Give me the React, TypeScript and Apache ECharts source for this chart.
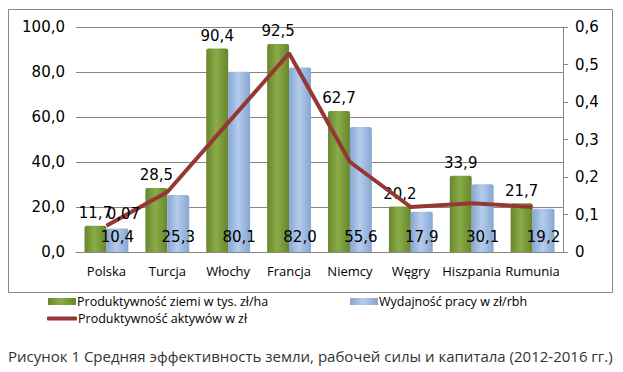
import React, { useEffect, useRef } from "react";
import * as echarts from "echarts";

const categories = ["Polska", "Turcja", "Włochy", "Francja", "Niemcy", "Węgry", "Hiszpania", "Rumunia"];
const landProductivity = [11.7, 28.5, 90.4, 92.5, 62.7, 20.2, 33.9, 21.7];
const laborProductivity = [10.4, 25.3, 80.1, 82.0, 55.6, 17.9, 30.1, 19.2];
const assetProductivity = [0.07, 0.16, 0.345, 0.53, 0.24, 0.12, 0.13, 0.12];

const S1 = "Produktywność ziemi w tys. zł/ha";
const S2 = "Wydajność pracy w zł/rbh";
const S3 = "Produktywność aktywów w zł";
const CAPTION = "Рисунок 1 Средняя эффективность земли, рабочей силы и капитала (2012-2016 гг.)";

const NUM_FONT = "DejaVu Sans";
const TXT_FONT = "Open Sans";

const fmt1 = (v: number) => v.toFixed(1).replace(".", ",");

export default function App() {
  const ref = useRef<HTMLDivElement>(null);
  useEffect(() => {
    if (!ref.current) return;
    const chart = echarts.init(ref.current, null, { renderer: "svg" });
    const green = new echarts.graphic.LinearGradient(0, 0, 1, 0, [
      { offset: 0, color: "#67862c" },
      { offset: 0.45, color: "#8aac47" },
      { offset: 1, color: "#67862c" },
    ]);
    const blue = new echarts.graphic.LinearGradient(0, 0, 1, 0, [
      { offset: 0, color: "#85a7d3" },
      { offset: 0.45, color: "#b5cceb" },
      { offset: 1, color: "#85a7d3" },
    ]);
    const legendText = { fontFamily: TXT_FONT, fontSize: 12.5, lineHeight: 13, color: "#000", padding: [0, 0, 0, -4] };
    chart.setOption({
      animation: false,
      grid: { left: 76, top: 27, right: 60, bottom: 120 },
      legend: [
        { data: [{ name: S1, icon: "rect" }], left: 48, top: 295, padding: 0, itemWidth: 28, itemHeight: 7, textStyle: legendText },
        { data: [{ name: S2, icon: "rect" }], left: 350, top: 295, padding: 0, itemWidth: 28, itemHeight: 7, textStyle: legendText },
        { data: [{ name: S3, icon: "roundRect" }], left: 47, top: 312, padding: 0, itemWidth: 30, itemHeight: 4, textStyle: legendText },
      ],
      xAxis: {
        type: "category",
        data: categories,
        axisLine: { lineStyle: { color: "#868686" } },
        axisTick: { show: false },
        axisLabel: { fontFamily: TXT_FONT, fontSize: 13, color: "#000", margin: 12, interval: 0 },
      },
      yAxis: [
        {
          type: "value",
          min: 0,
          max: 100,
          interval: 20,
          axisLine: { show: false },
          axisTick: { show: false },
          splitLine: { lineStyle: { color: "#868686" } },
          axisLabel: { fontFamily: NUM_FONT, fontSize: 15, color: "#000", margin: 11, formatter: (v: number) => fmt1(v) },
        },
        {
          type: "value",
          min: 0,
          max: 0.6,
          interval: 0.1,
          position: "right",
          axisLine: { show: true, lineStyle: { color: "#868686" } },
          axisTick: { show: true, length: 5, lineStyle: { color: "#868686" } },
          splitLine: { show: false },
          axisLabel: {
            fontFamily: NUM_FONT,
            fontSize: 15,
            color: "#000",
            margin: 12,
            formatter: (v: number) => (Math.abs(v) < 1e-9 ? "0" : fmt1(v)),
          },
        },
      ],
      series: [
        {
          name: S1,
          type: "bar",
          data: landProductivity,
          barGap: "0%",
          barCategoryGap: "28%",
          itemStyle: { color: green, borderRadius: [2, 2, 0, 0] },
          label: {
            show: true,
            position: "top",
            distance: 5,
            fontFamily: NUM_FONT,
            fontSize: 15,
            color: "#000",
            formatter: (p: any) => fmt1(p.value),
          },
        },
        {
          name: S2,
          type: "bar",
          data: laborProductivity,
          barGap: "0%",
          barCategoryGap: "28%",
          itemStyle: { color: blue, borderRadius: [2, 2, 0, 0] },
          label: {
            show: true,
            position: "insideBottom",
            distance: 8,
            fontFamily: NUM_FONT,
            fontSize: 15,
            color: "#000",
            formatter: (p: any) => fmt1(p.value),
          },
        },
        {
          name: S3,
          type: "line",
          yAxisIndex: 1,
          data: assetProductivity.map((v, i) =>
            i === 0
              ? {
                  value: v,
                  label: {
                    show: true,
                    position: "top",
                    distance: 4,
                    offset: [17, 0],
                    fontFamily: NUM_FONT,
                    fontSize: 15,
                    color: "#000",
                    formatter: (p: any) => Number(p.value).toFixed(2).replace(".", ","),
                  },
                }
              : v
          ),
          showSymbol: true,
          symbol: "circle",
          symbolSize: 0.1,
          lineStyle: { color: "#953735", width: 4 },
          itemStyle: { color: "#953735" },
          z: 3,
        },
      ],
      graphic: [
        {
          type: "rect",
          shape: { x: 8.5, y: 9.5, width: 604, height: 283 },
          style: { fill: "none", stroke: "#888", lineWidth: 1 },
          silent: true,
        },
        {
          type: "text",
          left: 8,
          top: 348,
          style: { text: CAPTION, fontFamily: TXT_FONT, fontSize: 15, fill: "#333" },
        },
      ],
    });
    return () => chart.dispose();
  }, []);
  return (
    <div style={{ position: "absolute", left: 0, top: 0, width: 623, height: 372, background: "#fff" }}>
      <div ref={ref} style={{ width: 623, height: 372 }} />
    </div>
  );
}
